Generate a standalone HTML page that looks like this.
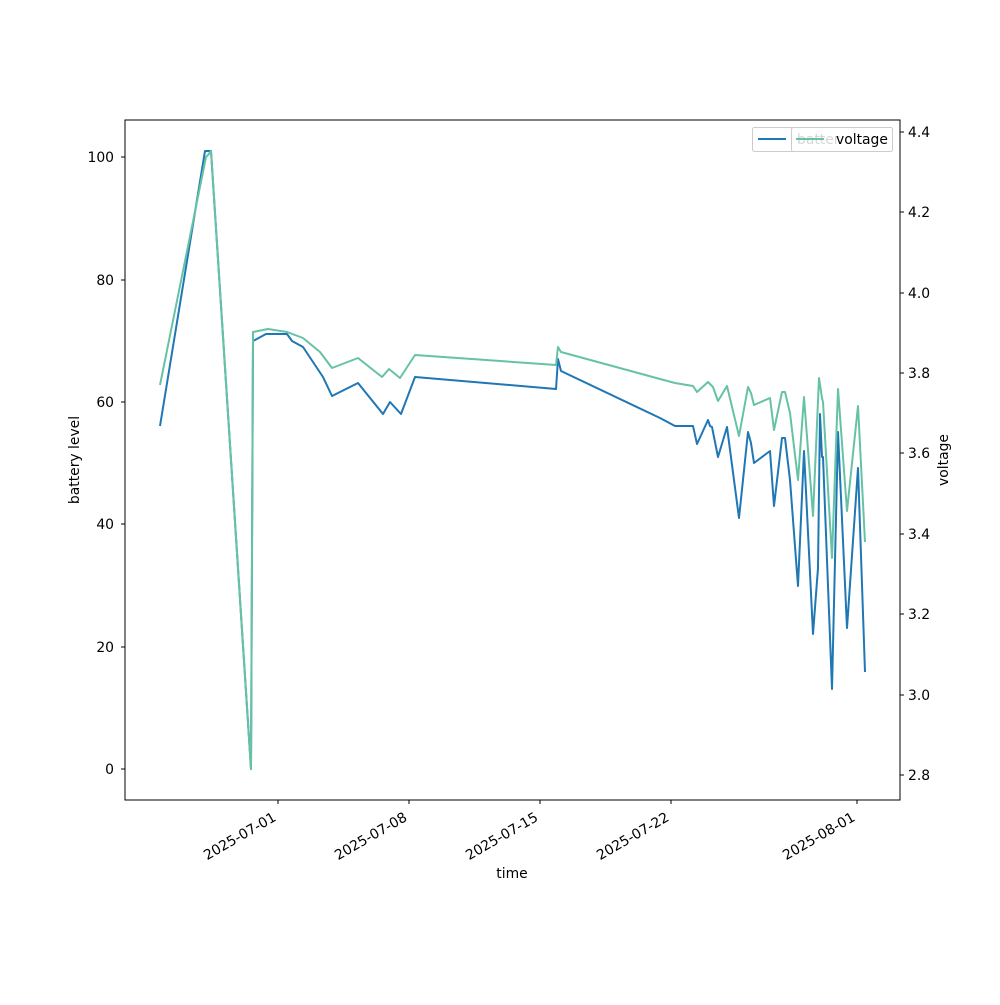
<!DOCTYPE html>
<html><head><style>body{margin:0;background:#fff}</style></head><body>
<svg width="1000" height="1000" xmlns="http://www.w3.org/2000/svg" font-family="DejaVu Sans, Liberation Sans, sans-serif" font-size="13.9">
<rect width="1000" height="1000" fill="#fff"/>
<polyline fill="none" stroke="#1f77b4" stroke-width="2" stroke-linejoin="round" points="160,426 205,151 211,151 251,769 253,341 266,334 287,334 292,341 303,347 323,377 332,396 358,383 383,414 390,402 401,414 415,377 556,389 558,359 561,371 660,418 675,426 693,426 697,444 708,420 710,426 712,427 718,457 727,427 739,518 748,432 751,443 754,463 770,451 774,506 782,438 785,438 790,480 798,586 804,451 813,634 818,568 820,414 822,457 823,457 832,689 838,432 847,628 858,468 865,672"/>
<polyline fill="none" stroke="#66c2a5" stroke-width="2" stroke-linejoin="round" points="160,385 206,157 208,155 211,151 251,769 253,332 268,329 287,332 303,338 320,352 332,368 358,358 382,377 389,369 400,378 415,355 556,365 558,347 561,352 660,379 675,383 693,386 697,392 708,382 713,387 718,401 727,386 739,436 748,387 751,393 754,405 770,398 774,430 782,392 785,392 790,413 798,480 804,397 813,516 819,378 822,398 823,402 832,558 838,389 847,511 858,406 865,542"/>
<rect x="125" y="120" width="775" height="680" fill="none" stroke="#000" stroke-width="1"/>
<g stroke="#000">
<line x1="121" y1="769" x2="125" y2="769"/><line x1="121" y1="647" x2="125" y2="647"/><line x1="121" y1="524" x2="125" y2="524"/><line x1="121" y1="402" x2="125" y2="402"/><line x1="121" y1="280" x2="125" y2="280"/><line x1="121" y1="157" x2="125" y2="157"/>
<line x1="900" y1="775" x2="904" y2="775"/><line x1="900" y1="695" x2="904" y2="695"/><line x1="900" y1="614" x2="904" y2="614"/><line x1="900" y1="534" x2="904" y2="534"/><line x1="900" y1="453" x2="904" y2="453"/><line x1="900" y1="373" x2="904" y2="373"/><line x1="900" y1="293" x2="904" y2="293"/><line x1="900" y1="212" x2="904" y2="212"/><line x1="900" y1="132" x2="904" y2="132"/>
<line x1="278" y1="800" x2="278" y2="804"/><line x1="409" y1="800" x2="409" y2="804"/><line x1="540" y1="800" x2="540" y2="804"/><line x1="671" y1="800" x2="671" y2="804"/><line x1="857" y1="800" x2="857" y2="804"/>
</g>
<g text-anchor="end">
<text x="114" y="774">0</text><text x="114" y="652">20</text><text x="114" y="529">40</text><text x="114" y="407">60</text><text x="114" y="285">80</text><text x="114" y="162">100</text>
</g>
<g>
<text x="908" y="780">2.8</text><text x="908" y="700">3.0</text><text x="908" y="619">3.2</text><text x="908" y="539">3.4</text><text x="908" y="458">3.6</text><text x="908" y="378">3.8</text><text x="908" y="298">4.0</text><text x="908" y="217">4.2</text><text x="908" y="137">4.4</text>
</g>
<g text-anchor="end">
<text transform="translate(277,820) rotate(-30)">2025-07-01</text>
<text transform="translate(408,820) rotate(-30)">2025-07-08</text>
<text transform="translate(539,820) rotate(-30)">2025-07-15</text>
<text transform="translate(670,820) rotate(-30)">2025-07-22</text>
<text transform="translate(856,820) rotate(-30)">2025-08-01</text>
</g>
<text x="512" y="878" text-anchor="middle">time</text>
<text transform="translate(79,460) rotate(-90)" text-anchor="middle">battery level</text>
<text transform="translate(948,460) rotate(-90)" text-anchor="middle">voltage</text>
<rect x="752.5" y="127.5" width="140" height="24" rx="2" fill="#fff" stroke="#ccc"/>
<line x1="758" y1="139" x2="786" y2="139" stroke="#1f77b4" stroke-width="2"/>
<rect x="791.5" y="127.5" width="101" height="24" rx="2" fill="#fff" stroke="#ccc"/>
<text x="797" y="144" fill="#bbb" opacity="0.6">batter</text>
<line x1="796" y1="139" x2="824" y2="139" stroke="#66c2a5" stroke-width="2"/>
<text x="836" y="144">voltage</text>
</svg>
</body></html>
